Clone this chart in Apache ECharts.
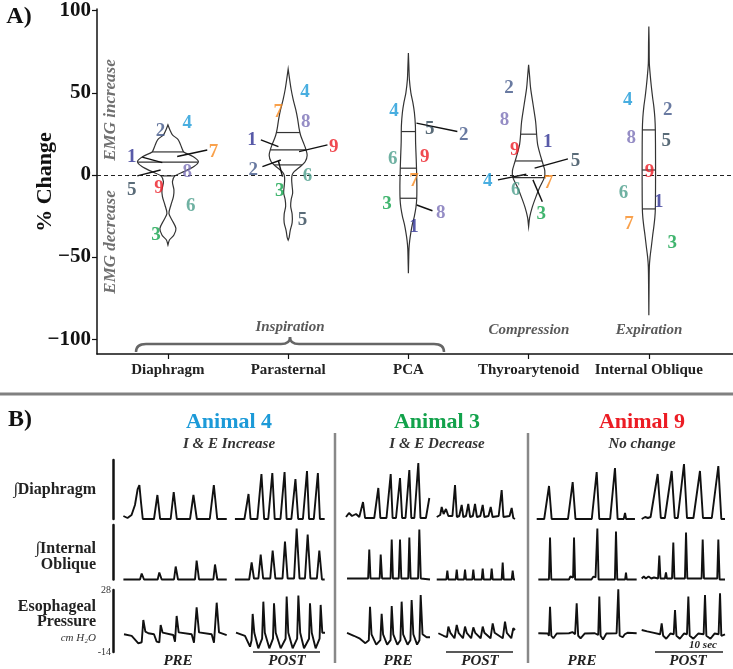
<!DOCTYPE html>
<html><head><meta charset="utf-8">
<script src="https://cdn.jsdelivr.net/npm/echarts@6/dist/echarts.min.js"></script>
<style>html,body{margin:0;padding:0;background:#fff}#c{width:733px;height:669px}</style>
</head><body><div id="c"></div><script>
// ---------------- Panel A data ----------------
const muscles = ['Diaphragm', 'Parasternal', 'PCA', 'Thyroarytenoid', 'Internal Oblique'];
const animalIds = [1, 2, 3, 4, 5, 6, 7, 8, 9];
const animalColors = ['#2e3192', '#43598a', '#12a24b', '#1c9ad8', '#2f4656', '#4b9d8b', '#f7891f', '#7b71b6', '#ec1c24'];
const yTicks = [-100, -50, 0, 50, 100];

// % change per animal (1..9) for each muscle
const diaphragmVals      = [10.8, 26.4, -36.6, 31.5, -9.1, -18.9, 14.2, 2.0, -8.1];
const parasternalVals    = [21.3, 3.0, -9.6, 50.2, -27.4, -0.6, 38.0, 31.9, 16.9];
const pcaVals            = [-31.5, 24.4, -17.7, 38.6, 27.9, 9.6, -3.5, -23.4, 10.8];
const thyroarytenoidVals = [19.9, 52.9, -24.0, -3.7, 8.5, -9.1, -5.1, 33.5, 15.2];
const internalObliqueVals= [-16.3, 39.6, -41.3, 45.7, 20.3, -11.2, -29.9, 22.4, 2.0];

// quartiles (75%, 50%, 25%) per muscle
const diaphragmQ      = [14.0, 7.8, -0.6];
const parasternalQ    = [25.8, 15.2, 6.1];
const pcaQ            = [26.4, 4.1, -14.2];
const thyroarytenoidQ = [24.8, 8.5, -1.6];
const internalObliqueQ= [27.4, 3.0, -20.7];

// violin density profiles: [value, relative density]
const diaphragmDensity = [[30.5,0],[27.4,2],[24.4,4.5],[21.7,10],[19.3,12],[16.3,14],[14,15.8],[11.2,25],[8.1,30.5],[5.1,26],[2,16],[-0.6,7],[-4.1,4.5],[-9.1,6],[-13.2,5.5],[-18.3,3],[-23.4,1],[-27.4,4],[-32.5,8],[-36.6,6],[-39.6,1.5],[-42.7,0]];
const parasternalDensity = [[64.4,0],[58,1.5],[52,3],[46,5],[40,7.5],[34,9.5],[28,11],[24,12.5],[20,15],[16,17.5],[12,19],[8,17],[5,12],[2,6],[0,4],[-3,3.5],[-7,4],[-11,4.5],[-15,3],[-19,2.5],[-24,4],[-29,4],[-34,2],[-38,1],[-39.6,0]];
const pcaDensity = [[74.2,0],[66,0.5],[58,1],[50,2.5],[44,4.5],[38,6],[30,7],[20,7.2],[10,7.8],[0,8.3],[-8,8.5],[-15,8.3],[-20,7.5],[-25,6],[-30,4],[-35,2.5],[-40,1.3],[-45,0.6],[-52,0.3],[-59.9,0]];
const thyroarytenoidDensity = [[67,0],[60,1],[52.8,2],[42.7,4.5],[32.5,7],[24.8,8],[18.6,9],[12.5,11.5],[6.4,14.5],[2.5,16.2],[-1.6,15.7],[-7.7,11],[-13.8,7],[-19.9,3.5],[-26,1],[-31.5,0]];
const internalObliqueDensity = [[90.4,0],[80,0.3],[68,0.5],[60,1.5],[53.8,2.5],[47,3.8],[41.6,5],[35,6],[27.4,6.5],[10,6.7],[-5,6.7],[-20.7,6.5],[-26,6],[-31.5,5],[-37,3.8],[-43.7,2.5],[-50,1.2],[-56,0.5],[-70,0.2],[-85.4,0]];

// label placement (horizontal offsets from the muscle position), kept apart from values
const diaphragmLabelDx      = [-0.30, -0.061, -0.10, 0.16, -0.30, 0.19, 0.38, 0.16, -0.075];
const parasternalLabelDx    = [-0.30, -0.29, -0.07, 0.14, 0.12, 0.16, -0.083, 0.147, 0.38];
const pcaLabelDx            = [0.047, 0.46, -0.177, -0.12, 0.177, -0.13, 0.047, 0.27, 0.136];
const thyroarytenoidLabelDx = [0.16, -0.164, 0.105, -0.34, 0.39, -0.108, 0.166, -0.2, -0.116];
const internalObliqueLabelDx= [0.083, 0.158, 0.195, -0.175, 0.145, -0.21, -0.166, -0.146, 0.006];
// leader segments: [muscle index, dx1, v1, dx2, v2]
const leaderSegments = [
  [0,-0.214,10.8,-0.047,7.5],[0,0.077,11.2,0.327,15.2],[0,-0.255,-0.6,-0.061,3.0],
  [1,-0.227,21.3,-0.081,17.2],[1,0.091,14.2,0.327,18.3],[1,-0.214,5.1,-0.061,9.1],[1,-0.081,8.5,-0.047,-1.0],
  [2,0.067,31.5,0.407,26.4],[2,0.069,-18.3,0.2,-21.8],
  [3,0.05,4.1,0.327,9.8],[3,-0.255,-3.0,-0.019,0.4],[3,0.036,-3.0,0.114,-16.3]
];

// ---------------- Panel B traces: [time s, amplitude] ----------------
const a4DiaPre = [[0.5,3],[1.1,1],[1.7,4],[2.2,14],[2.6,30],[2.85,34],[3.1,16],[3.35,0],[5.0,0],[5.5,24],[5.9,0],[7.45,0],[7.9,27],[8.35,0],[10.3,0],[10.8,24],[11.3,0],[13.2,0],[13.8,34],[14.3,0],[15.7,0]];
const a4DiaPost = [[16.9,0],[18.3,0],[18.9,25],[19.2,0],[20.2,0],[20.8,45],[21.2,0],[21.8,0],[22.4,46],[22.75,0],[23.6,0],[24.2,47],[24.5,0],[25.2,0],[25.8,40],[26.2,0],[26.9,0],[27.5,48],[27.8,0],[28.5,0],[29.1,46],[29.4,0],[30.1,0]];
const a4IoPre = [[0.5,0],[2.94,0],[3.19,6],[3.53,0],[5.54,0],[5.78,7],[6.13,0],[7.94,0],[8.19,13],[8.53,0],[11.03,0],[11.27,19],[11.62,0],[13.73,0],[13.97,15],[14.31,0],[15.7,0]];
const a4IoPost = [[16.9,0],[19.0,0],[19.36,17],[19.7,1],[20.35,1],[20.69,25],[21.05,1],[22.1,1],[22.45,29],[22.85,1],[23.9,1],[24.26,38],[24.65,1],[25.6,1],[25.98,51],[26.4,1],[27.2,1],[27.6,45],[28.0,1],[28.95,1],[29.31,29],[29.7,0],[30.1,0]];
const a4EsoPre = [[0.59,-2],[1.72,-3.1],[2.7,-8.1],[3.19,-7.4],[3.43,7.7],[3.73,-0.2],[4.17,-1.3],[5.0,-2],[5.39,-7],[5.78,-7.5],[5.98,4.3],[6.27,-0.9],[7.84,-2.5],[8.09,-7],[8.33,10.4],[8.63,-0.7],[10.54,-2],[10.88,-7.7],[11.27,16.3],[11.62,-0.7],[13.48,-2],[13.82,-7.7],[14.22,19.4],[14.56,-0.7],[15.69,-2.5]];
const a4EsoPost = [[17.06,-0.9],[18.38,-3.1],[19.12,-10.4],[19.35,-6],[19.51,11.8],[19.75,-1],[20.34,-11.5],[20.9,-5],[21.08,20.1],[21.3,-1],[21.96,-11.5],[22.5,-5],[22.65,19],[22.9,-1],[23.63,-11.5],[24.35,-5],[24.51,23.5],[24.75,-1],[25.39,-11.5],[26.05,-5],[26.23,24.2],[26.5,-1],[27.06,-11.5],[27.8,-5],[27.94,19],[28.2,-1],[28.77,-11.5],[29.35,-5],[29.51,17.9],[29.75,-1],[30.15,-1]];

const a3DiaPre = [[0.15,2],[0.59,6],[1.03,3],[1.62,5],[2.1,2],[2.65,17],[2.95,1],[4.3,1],[4.9,31],[5.2,1],[6.1,1],[6.72,45],[7.0,1],[7.5,1],[8.09,41],[8.4,1],[8.9,1],[9.46,49],[9.75,1],[10.2,1],[10.78,56],[11.1,1],[11.9,1],[12.4,21]];
const a3DiaPost = [[13.49,2],[14.0,4],[14.22,12],[14.5,5],[14.85,10],[15.2,3],[15.8,3],[16.18,34],[16.45,2],[16.8,3],[17.16,14],[17.4,2],[17.8,3],[18.13,15],[18.4,2],[18.8,3],[19.12,15],[19.4,2],[19.9,3],[20.25,14],[20.5,2],[21.1,3],[21.43,12],[21.7,2],[22.6,3],[23.04,29],[23.3,2],[24.2,3],[24.51,11],[24.75,1],[25.0,0]];
const a3IoPre = [[0.3,1],[3.4,1],[3.57,30],[3.75,1],[5.1,1],[5.25,25],[5.45,1],[6.7,1],[6.87,40],[7.05,1],[7.9,1],[8.09,40],[8.28,1],[9.3,1],[9.46,42],[9.65,1],[10.75,1],[10.93,50],[11.15,1],[12.5,0]];
const a3IoPost = [[13.49,0],[14.9,0],[15.05,9],[15.2,0],[16.28,0],[16.43,10],[16.58,0],[17.5,0],[17.65,10],[17.8,0],[18.72,0],[18.87,10],[19.02,0],[20.1,0],[20.25,11],[20.4,0],[21.42,0],[21.57,11],[21.72,0],[23.04,0],[23.19,17],[23.34,0],[24.51,0],[24.66,9],[24.81,0],[25.0,0]];
const a3EsoPre = [[0.3,-1],[1.3,-3],[2.2,-5],[3.0,-8],[3.5,-6],[3.68,16.7],[3.9,-2],[4.6,-9],[5.2,-6],[5.39,11.8],[5.6,-2],[6.2,-9],[6.7,-6],[6.87,17.2],[7.1,-2],[7.7,-9],[8.15,-6],[8.33,20.1],[8.55,-2],[9.2,-9],[9.62,-6],[9.8,21.2],[10.05,-2],[10.6,-9],[10.95,-6],[11.13,24.6],[11.4,-2],[12.0,-4],[12.5,-4]];
const a3EsoPost = [[13.73,-1.3],[14.5,-3],[15.0,-4],[15.2,3.2],[15.5,-1],[16.1,-4.7],[16.43,4.3],[16.7,-1],[17.35,-4.7],[17.65,3.2],[17.9,-1],[18.55,-4.7],[18.87,2.7],[19.15,-1],[19.95,-4.7],[20.25,3.2],[20.5,-1],[21.4,-4.7],[21.72,5.4],[22.0,-1],[23.2,-4.7],[23.53,6.6],[23.8,-1],[24.45,-4.7],[24.75,2.1],[25.0,0.9]];

const a9DiaPre = [[0.25,0],[1.35,0],[2.06,33],[2.45,0],[4.85,0],[5.54,37],[5.95,0],[8.35,0],[9.07,47],[9.45,0],[11.05,0],[11.76,51],[12.15,0],[13.05,0],[13.24,6],[13.4,0],[14.7,0]];
const a9DiaPost = [[15.69,0],[16.2,2],[16.6,1],[17.0,2],[18.04,45],[18.5,1],[19.1,1],[20.1,48],[20.55,1],[21.0,1],[21.91,55],[22.35,1],[23.3,1],[24.26,48],[24.7,1],[26.0,1],[26.96,53],[27.4,0],[27.94,0]];
const a9IoPre = [[0.49,0],[2.05,0],[2.21,42],[2.4,0],[5.0,0],[5.2,3],[5.4,1],[5.6,2],[5.74,42],[5.9,0],[8.3,0],[8.6,3],[8.9,2],[9.05,4],[9.17,51],[9.35,0],[11.75,0],[11.91,48],[12.1,0],[13.25,0],[13.38,7],[13.5,0],[14.95,0]];
const a9IoPost = [[15.69,1],[16.0,3],[16.3,1],[16.7,3],[17.1,1],[17.5,2],[18.1,1],[18.28,24],[18.45,1],[19.1,1],[19.26,7],[19.4,1],[20.15,1],[20.34,37],[20.5,1],[22.05,1],[22.21,47],[22.4,1],[24.5,1],[24.66,40],[24.85,1],[26.8,1],[26.96,40],[27.15,0],[27.94,0]];
const a9EsoPre = [[0.49,-1.3],[1.9,-1.5],[2.05,-3],[2.21,16.7],[2.4,-3],[2.7,-4.7],[3.2,-1.5],[5.0,-1.3],[5.5,-0.5],[5.9,-2],[6.13,19],[6.35,-3],[6.7,-4.7],[7.3,-1.5],[8.8,-1.3],[9.3,-2.5],[9.46,23.5],[9.65,-3],[10.0,-5.5],[10.5,-1.5],[12.0,-1.3],[12.1,-2],[12.25,28.5],[12.45,-3],[12.9,-4],[13.2,-2],[13.6,-1],[14.95,-1.3]];
const a9EsoPost = [[15.69,0.9],[16.5,0],[17.5,-1],[18.4,-2],[18.63,5.4],[18.85,-3],[19.3,-5],[19.9,-1.5],[20.4,-2],[20.59,14.5],[20.8,-3],[21.3,-5],[21.9,-1.5],[22.35,-2],[22.55,23.5],[22.75,-3],[23.3,-5],[24.0,-1.5],[24.8,-2],[25.0,24.6],[25.2,-3],[25.8,-5],[26.4,-1.5],[27.0,-2],[27.21,25.8],[27.4,-3],[27.94,-2]];

const esoTicks = [-14, 28];
const animalTitles = ['Animal 4', 'Animal 3', 'Animal 9'];
const animalSubtitles = ['I & E Increase', 'I & E Decrease', 'No change'];

// ---------------- build ----------------
const SERIF = '"Liberation Serif", "DejaVu Serif", serif';
const muscleVals = [diaphragmVals, parasternalVals, pcaVals, thyroarytenoidVals, internalObliqueVals];
const muscleQ = [diaphragmQ, parasternalQ, pcaQ, thyroarytenoidQ, internalObliqueQ];
const muscleDensity = [diaphragmDensity, parasternalDensity, pcaDensity, thyroarytenoidDensity, internalObliqueDensity];
const muscleLabelDx = [diaphragmLabelDx, parasternalLabelDx, pcaLabelDx, thyroarytenoidLabelDx, internalObliqueLabelDx];
const widthUnit = 1 / 120.25;

function widthAt(prof, q) {
  for (let k = 0; k < prof.length - 1; k++) {
    const [v1, w1] = prof[k], [v2, w2] = prof[k + 1];
    if ((q <= v1 && q >= v2)) { const f = (v1 - q) / (v1 - v2); return w1 + f * (w2 - w1); }
  }
  return 0;
}
function renderViolin(params, api) {
  const i = params.dataIndex;
  const prof = muscleDensity[i];
  const cx = i + 1;
  const right = prof.map(([v, w]) => api.coord([cx + w * widthUnit, v]));
  const left = prof.slice().reverse().map(([v, w]) => api.coord([cx - w * widthUnit, v]));
  const children = [{ type: 'polygon', shape: { points: right.concat(left), smooth: 0.3 },
    style: { fill: '#fff', stroke: '#333', lineWidth: 1.2 } }];
  muscleQ[i].forEach(q => {
    const w = widthAt(prof, q);
    const p1 = api.coord([cx - w * widthUnit, q]), p2 = api.coord([cx + w * widthUnit, q]);
    children.push({ type: 'line', shape: { x1: p1[0], y1: p1[1], x2: p2[0], y2: p2[1] }, style: { stroke: '#333', lineWidth: 1.2 } });
  });
  return { type: 'group', children };
}

const grids = [{ left: 97, top: 9, width: 636, height: 345 }];
const xAxes = [{
  gridIndex: 0, type: 'value', min: 0.41, max: 5.70, splitLine: { show: false },
  axisLine: { show: true, onZero: false, lineStyle: { color: '#111', width: 1.5 } },
  axisTick: { show: true, customValues: [1, 2, 3, 4, 5], length: 5, lineStyle: { color: '#111', width: 1.2 } },
  axisLabel: { customValues: [1, 2, 3, 4, 5], formatter: v => muscles[Math.round(v) - 1] || '', margin: 9,
    fontFamily: SERIF, fontWeight: 'bold', fontSize: 15, color: '#222' }
}];
const yAxes = [{
  gridIndex: 0, type: 'value', min: -109, max: 101, splitLine: { show: false },
  axisLine: { show: true, onZero: false, lineStyle: { color: '#111', width: 1.5 } },
  axisTick: { show: true, customValues: yTicks, length: 5, lineStyle: { color: '#111', width: 1.2 } },
  axisLabel: { customValues: yTicks, formatter: v => v < 0 ? '\u2212' + Math.abs(v) : String(v), margin: 6,
    fontFamily: SERIF, fontWeight: 'bold', fontSize: 21, color: '#111' }
}];

const series = [];
series.push({ type: 'line', xAxisIndex: 0, yAxisIndex: 0, data: [], z: 1, silent: true,
  markLine: { symbol: 'none', silent: true, label: { show: false },
    lineStyle: { type: [4, 3], color: '#222', width: 1.2 }, data: [{ yAxis: 0 }] } });
series.push({ type: 'custom', xAxisIndex: 0, yAxisIndex: 0, z: 3, clip: false,
  data: muscles.map((m, i) => [i + 1]), encode: { x: 0 }, renderItem: renderViolin });
series.push({ type: 'lines', coordinateSystem: 'cartesian2d', xAxisIndex: 0, yAxisIndex: 0, z: 4,
  lineStyle: { color: '#111', width: 1.4, opacity: 1 },
  data: leaderSegments.map(s => ({ coords: [[s[0] + 1 + s[1], s[2]], [s[0] + 1 + s[3], s[4]]] })) });
animalIds.forEach((id, k) => {
  series.push({ type: 'scatter', name: 'Animal ' + id, xAxisIndex: 0, yAxisIndex: 0, z: 6,
    symbolSize: 1, itemStyle: { color: 'rgba(0,0,0,0)' },
    label: { show: true, position: 'inside', formatter: String(id), color: animalColors[k],
      fontFamily: SERIF, fontWeight: 'bold', fontSize: 19 },
    data: muscles.map((m, i) => [i + 1 + muscleLabelDx[i][k], muscleVals[i][k]]) });
});

// panel B grids
const blocks = [
  { left: 120, span: 31, traces: [[a4DiaPre, a4DiaPost], [a4IoPre, a4IoPost], [a4EsoPre, a4EsoPost]] },
  { left: 345, span: 25.5, traces: [[a3DiaPre, a3DiaPost], [a3IoPre, a3IoPost], [a3EsoPre, a3EsoPost]] },
  { left: 535, span: 28.5, traces: [[a9DiaPre, a9DiaPost], [a9IoPre, a9IoPost], [a9EsoPre, a9EsoPost]] }
];
const rows = [{ top: 460, height: 59, min: 0, max: 59 }, { top: 525, height: 54.5, min: 0, max: 54.5 }, { top: 590, height: 62, min: -14, max: 28 }];
const pxPerSec = 6.8;
blocks.forEach((b, bi) => {
  rows.forEach((r, ri) => {
    const gi = grids.length;
    grids.push({ left: b.left, top: r.top, width: b.span * pxPerSec, height: r.height });
    xAxes.push({ gridIndex: gi, type: 'value', min: 0, max: b.span, show: false });
    const showBar = bi === 0;
    yAxes.push({ gridIndex: gi, type: 'value', min: r.min, max: r.max, show: showBar, offset: 7,
      splitLine: { show: false },
      axisLine: { show: true, onZero: false, lineStyle: { color: '#111', width: 2.5 } },
      axisTick: { show: false },
      axisLabel: ri === 2 ? { customValues: esoTicks, margin: 2, fontFamily: SERIF, fontSize: 10, color: '#333' } : { show: false } });
    b.traces[ri].forEach(tr => {
      series.push({ type: 'line', xAxisIndex: gi, yAxisIndex: gi, data: tr, showSymbol: false, symbol: 'none',
        clip: false, silent: true, lineStyle: { color: '#111', width: 1.9 } });
    });
  });
});

// annotations
const g = [];
function txt(x, y, text, font, fill, extra) {
  g.push(Object.assign({ type: 'text', x, y, silent: true,
    style: { text, font, fill, align: 'center', verticalAlign: 'middle' } }, extra || {}));
}
function seg(x1, y1, x2, y2, stroke, w) {
  g.push({ type: 'line', silent: true, shape: { x1, y1, x2, y2 }, style: { stroke, lineWidth: w } });
}
function curve(x1, y1, cx, cy, x2, y2, stroke, w) {
  g.push({ type: 'bezierCurve', silent: true, shape: { x1, y1, x2, y2, cpx1: cx, cpy1: cy }, style: { stroke, lineWidth: w, fill: 'none' } });
}
txt(19, 17, 'A)', 'bold 24px ' + SERIF, '#111');
txt(45, 182, '% Change', 'bold 22px ' + SERIF, '#111', { rotation: Math.PI / 2 });
txt(111, 110, 'EMG increase', 'italic bold 17px ' + SERIF, '#707070', { rotation: Math.PI / 2 });
txt(111, 242, 'EMG decrease', 'italic bold 17px ' + SERIF, '#707070', { rotation: Math.PI / 2 });
// brace under the inspiratory muscles
curve(136, 352, 136, 344, 146, 344, '#666', 2.5);
seg(146, 344, 281, 344, '#666', 2.5);
curve(281, 344, 290, 344, 290, 337, '#666', 2.5);
curve(290, 337, 290, 344, 299, 344, '#666', 2.5);
seg(299, 344, 434, 344, '#666', 2.5);
curve(434, 344, 444, 344, 444, 352, '#666', 2.5);
txt(290, 327, 'Inspiration', 'italic bold 15px ' + SERIF, '#5a5a5a');
txt(529, 330, 'Compression', 'italic bold 15px ' + SERIF, '#5a5a5a');
txt(649, 330, 'Expiration', 'italic bold 15px ' + SERIF, '#5a5a5a');
seg(0, 394, 733, 394, '#808080', 3);
txt(20, 420, 'B)', 'bold 24px ' + SERIF, '#111');
const titleX = [229, 437, 642];
const titleColors = [animalColors[3], animalColors[2], animalColors[8]];
titleX.forEach((x, i) => {
  txt(x, 422, animalTitles[i], 'bold 22px ' + SERIF, titleColors[i]);
  txt(x, 444, animalSubtitles[i], 'italic bold 15px ' + SERIF, '#333');
});
[335, 528].forEach(x => seg(x, 433, x, 663, '#888', 2.5));
function rtxt(y, text, font, fill) {
  g.push({ type: 'text', x: 96, y, silent: true, style: { text, font, fill: fill || '#222', align: 'right', verticalAlign: 'middle' } });
}
rtxt(490, '\u222BDiaphragm', 'bold 16px ' + SERIF);
rtxt(549, '\u222BInternal', 'bold 16px ' + SERIF);
rtxt(565, 'Oblique', 'bold 16px ' + SERIF);
rtxt(607, 'Esophageal', 'bold 16px ' + SERIF);
rtxt(622, 'Pressure', 'bold 16px ' + SERIF);
rtxt(638, 'cm H\u2082O', 'italic 11px ' + SERIF, '#333');
const preX = [178, 398, 582], postX = [287, 480, 688], ulX = [[253, 320], [446, 513], [655, 723]];
preX.forEach((x, i) => {
  txt(x, 661, 'PRE', 'italic bold 15px ' + SERIF, '#222');
  txt(postX[i], 661, 'POST', 'italic bold 15px ' + SERIF, '#222');
  seg(ulX[i][0], 652, ulX[i][1], 652, '#222', 1.5);
});
txt(703, 645, '10 sec', 'italic bold 11px ' + SERIF, '#222');

const chart = echarts.init(document.getElementById('c'), null, { renderer: 'canvas' });
chart.setOption({
  animation: false, backgroundColor: '#fff',
  grid: grids, xAxis: xAxes, yAxis: yAxes, series, graphic: g
});
</script></body></html>
